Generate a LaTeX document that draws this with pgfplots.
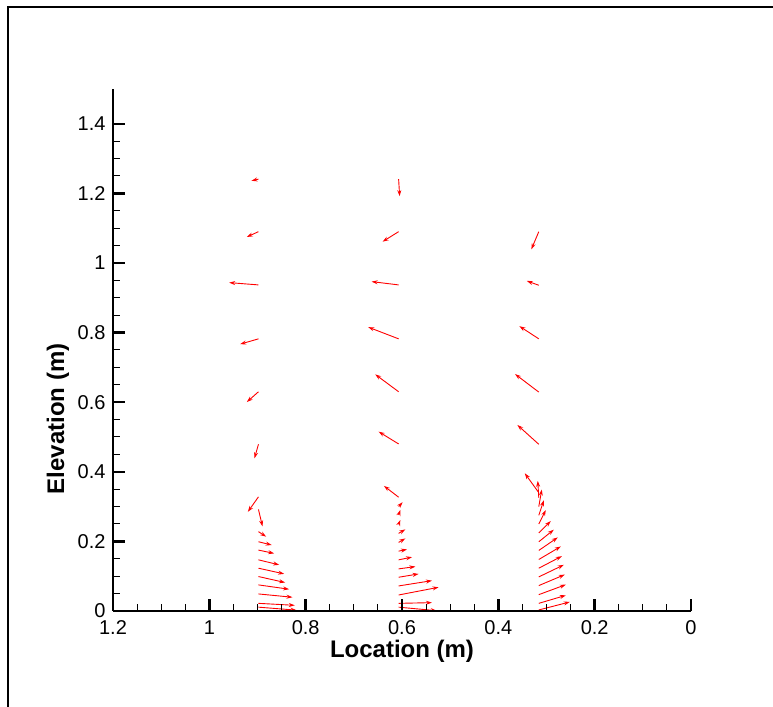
\documentclass[border=0pt]{standalone}
\usepackage{fontspec}
\setmainfont{Liberation Sans}
\usepackage{pgfplots}
\usepackage{pgfplotstable}
\pgfplotsset{compat=1.18}
\usetikzlibrary{arrows.meta}

% vector columns: tail position (x,y), components (u,v) in data units
\pgfplotstableread{
x y u v
0.898 1.241 0.0145 -0.0049
0.898 1.090 0.0241 -0.0152
0.898 0.937 0.0608 0.0066
0.898 0.782 0.0380 -0.0152
0.898 0.630 0.0241 -0.0296
0.898 0.479 0.0083 -0.0402
0.898 0.328 0.0220 -0.0431
0.898 0.292 -0.0083 -0.0489
0.898 0.228 -0.0160 -0.0144
0.898 0.199 -0.0276 -0.0095
0.898 0.175 -0.0326 -0.0095
0.898 0.147 -0.0430 -0.0144
0.898 0.123 -0.0534 -0.0164
0.898 0.099 -0.0554 -0.0172
0.898 0.075 -0.0637 -0.0124
0.898 0.049 -0.0706 -0.0095
0.898 0.022 -0.0754 -0.0057
0.898 0.011 -0.0789 -0.0086
}\colA

\pgfplotstableread{
x y u v
0.607 1.241 -0.0021 -0.0489
0.607 1.090 0.0332 -0.0287
0.607 0.937 0.0561 0.0095
0.607 0.782 0.0631 0.0336
0.607 0.630 0.0486 0.0500
0.607 0.480 0.0415 0.0353
0.607 0.327 0.0305 0.0325
0.607 0.300 -0.0083 0.0126
0.607 0.276 -0.0035 0.0144
0.607 0.249 -0.0035 0.0124
0.607 0.223 -0.0139 0.0115
0.607 0.197 -0.0139 0.0115
0.607 0.172 -0.0174 0.0049
0.607 0.147 -0.0278 0.0078
0.607 0.121 -0.0347 0.0066
0.607 0.097 -0.0415 0.0095
0.607 0.072 -0.0693 0.0152
0.607 0.046 -0.0830 0.0221
0.607 0.022 -0.0691 0.0020
0.607 0.011 -0.0789 -0.0101
}\colB

\pgfplotstableread{
x y u v
0.316 1.090 0.0154 -0.0506
0.316 0.936 0.0249 0.0124
0.316 0.782 0.0403 0.0365
0.316 0.629 0.0492 0.0517
0.316 0.479 0.0444 0.0555
0.316 0.340 0.0291 0.0557
0.316 0.325 0.0021 0.0489
0.316 0.300 -0.0062 0.0489
0.316 0.275 -0.0104 0.0431
0.316 0.250 -0.0145 0.0402
0.316 0.224 -0.0249 0.0345
0.316 0.199 -0.0311 0.0345
0.316 0.174 -0.0394 0.0374
0.316 0.148 -0.0457 0.0374
0.316 0.123 -0.0478 0.0345
0.316 0.098 -0.0519 0.0345
0.316 0.073 -0.0540 0.0316
0.316 0.047 -0.0561 0.0287
0.316 0.022 -0.0561 0.0230
0.316 0.003 -0.0644 0.0230
}\colC

\begin{document}
\begin{tikzpicture}[x=1bp,y=1bp]
\useasboundingbox (0,0) rectangle (773,707);
\draw[line width=1.2bp] (8,0) -- (8,700) -- (773,700);
\begin{axis}[
  at={(113bp,96bp)}, anchor=south west,
  scale only axis, width=578bp, height=522bp,
  xmin=0, xmax=1.2, ymin=0, ymax=1.5,
  x dir=reverse,
  axis x line*=bottom, axis y line*=left,
  axis line style={line width=2.5bp, -},
  axis on top,
  xtick={0,0.2,0.4,0.6,0.8,1,1.2},
  ytick={0,0.2,0.4,0.6,0.8,1,1.2,1.4},
  minor tick num=3,
  tick align=inside,
  major tick length=12bp, minor tick length=7bp,
  every major tick/.append style={line width=2.5bp, black},
  every minor tick/.append style={line width=1bp, black},
  ticklabel style={font=\fontsize{20bp}{24bp}\selectfont},
  xticklabel style={yshift=-6bp},
  yticklabel style={xshift=-4bp},
  /pgf/number format/assume math mode=true,
  xlabel={Location (m)}, ylabel={Elevation (m)},
  xlabel style={at={(axis description cs:0.5,-0.0766)}, anchor=center, font=\fontsize{24bp}{28bp}\selectfont\bfseries},
  ylabel style={at={(axis description cs:-0.0952,0.368)}, anchor=center, font=\fontsize{24bp}{28bp}\selectfont\bfseries},
]
\addplot[red, line width=0.9bp, quiver={u=\thisrow{u}, v=\thisrow{v}}, -{Stealth[length=6bp,width=4bp]}] table[x=x,y=y] {\colA};
\addplot[red, line width=0.9bp, quiver={u=\thisrow{u}, v=\thisrow{v}}, -{Stealth[length=6bp,width=4bp]}] table[x=x,y=y] {\colB};
\addplot[red, line width=0.9bp, quiver={u=\thisrow{u}, v=\thisrow{v}}, -{Stealth[length=6bp,width=4bp]}] table[x=x,y=y] {\colC};
\end{axis}
\end{tikzpicture}
\end{document}
